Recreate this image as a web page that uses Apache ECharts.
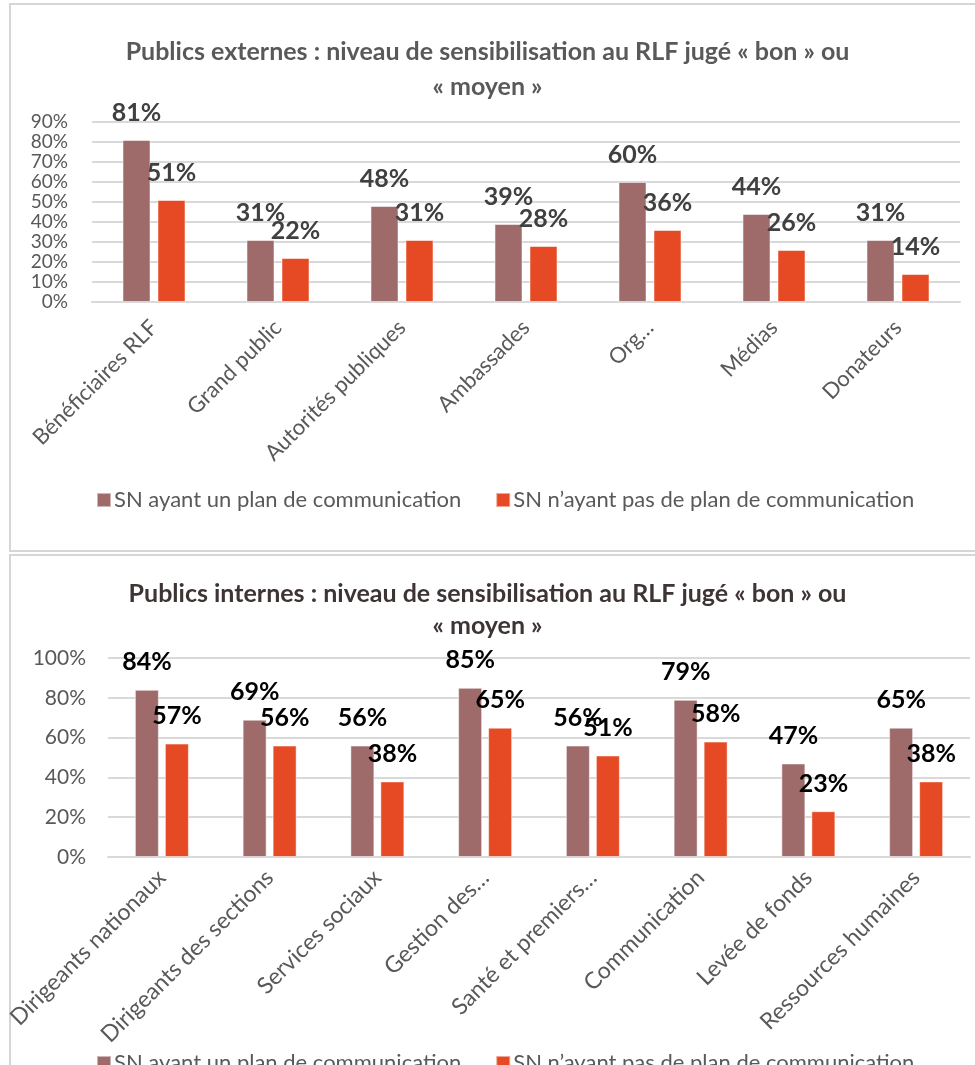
<!DOCTYPE html>
<html>
<head>
<meta charset="utf-8">
<script src="https://cdn.jsdelivr.net/npm/echarts@6/dist/echarts.min.js"></script>
<style>
html,body{margin:0;padding:0;background:#fff;}
#c{width:975px;height:1065px;}
</style>
</head>
<body>
<div id="c"></div>
<script>
// ---- Data ----
const extCategories = ['Bénéficiaires RLF','Grand public','Autorités publiques','Ambassades','Org…','Médias','Donateurs'];
const extWithPlan = [81, 31, 48, 39, 60, 44, 31];
const extWithoutPlan = [51, 22, 31, 28, 36, 26, 14];

const intCategories = ['Dirigeants nationaux','Dirigeants des sections','Services sociaux','Gestion des…','Santé et premiers…','Communication','Levée de fonds','Ressources humaines'];
const intWithPlan = [84, 69, 56, 85, 56, 79, 47, 65];
const intWithoutPlan = [57, 56, 38, 65, 51, 58, 23, 38];

const seriesNames = ['SN ayant un plan de communication', 'SN n’ayant pas de plan de communication'];
const extTitle = 'Publics externes : niveau de sensibilisation au RLF jugé « bon » ou\n« moyen »';
const intTitle = 'Publics internes : niveau de sensibilisation au RLF jugé « bon » ou\n« moyen »';

// ---- Style ----
const FONT = 'Lato';
const C1 = '#9e6a6a';
const C2 = '#e64a24';
const GRIDLINE = '#d9d9d9';

const chart = echarts.init(document.getElementById('c'), null, {renderer: 'canvas'});

function barSeries(name, data, idx, color, labelColor, bw) {
  return {
    name: name,
    type: 'bar',
    xAxisIndex: idx,
    yAxisIndex: idx,
    data: data,
    barWidth: bw,
    barGap: '25%',
    itemStyle: {color: color, borderColor: 'rgba(255,255,255,0.5)', borderWidth: 1},
    label: {
      show: true,
      position: 'top',
      distance: 15,
      formatter: '{c}%',
      fontFamily: FONT,
      fontWeight: 'bold',
      fontSize: 25,
      color: labelColor
    },
    emphasis: {disabled: true}
  };
}

function legendCfg(names, top) {
  return {data: names, left: 91, top: top, itemWidth: 14, itemHeight: 14, itemGap: 34,
    icon: 'rect', textStyle: {fontFamily: FONT, fontSize: 22, color: '#595959', padding: [0, 0, 0, -2]},
    selectedMode: false, formatter: n => n.trim()};
}

const option = {
  animation: false,
  backgroundColor: '#fff',
  graphic: [
    {type: 'rect', shape: {x: 10, y: 4, width: 1000, height: 547}, style: {fill: 'none', stroke: '#d6d6d6', lineWidth: 2}, z: -1},
    {type: 'rect', shape: {x: 10, y: 555, width: 1000, height: 530}, style: {fill: 'none', stroke: '#d6d6d6', lineWidth: 2}, z: -1}
  ],
  title: [
    {text: extTitle, left: 'center', top: 29, textStyle: {fontFamily: FONT, fontWeight: 'bold', fontSize: 25, color: '#595959', lineHeight: 35}},
    {text: intTitle, left: 'center', top: 573, textStyle: {fontFamily: FONT, fontWeight: 'bold', fontSize: 25, color: '#3e3434', lineHeight: 32}}
  ],
  legend: [
    legendCfg([seriesNames[0], seriesNames[1]], 484),
    legendCfg([seriesNames[0] + ' ', seriesNames[1] + ' '], 1047)
  ],
  grid: [
    {left: 92, right: 15, top: 122, height: 180, containLabel: false},
    {left: 108, right: 5, top: 658, height: 199, containLabel: false}
  ],
  xAxis: [
    {type: 'category', gridIndex: 0, data: extCategories,
     axisLine: {lineStyle: {color: GRIDLINE, width: 2}}, axisTick: {show: false},
     axisLabel: {rotate: 45, interval: 0, margin: 22, fontFamily: FONT, fontSize: 22, color: '#595959'}},
    {type: 'category', gridIndex: 1, data: intCategories,
     axisLine: {lineStyle: {color: GRIDLINE, width: 2}}, axisTick: {show: false},
     axisLabel: {rotate: 45, interval: 0, margin: 17, fontFamily: FONT, fontSize: 23, color: '#595959'}}
  ],
  yAxis: [
    {type: 'value', gridIndex: 0, min: 0, max: 90, interval: 10,
     axisLine: {show: false}, axisTick: {show: false},
     splitLine: {lineStyle: {color: GRIDLINE, width: 2}},
     axisLabel: {formatter: '{value}%', margin: 24, fontFamily: FONT, fontSize: 19, lineHeight: 18,
       color: '#595959', showMinLabel: true, showMaxLabel: true, hideOverlap: false}},
    {type: 'value', gridIndex: 1, min: 0, max: 100, interval: 20,
     axisLine: {show: false}, axisTick: {show: false},
     splitLine: {lineStyle: {color: GRIDLINE, width: 2}},
     axisLabel: {formatter: '{value}%', margin: 22, fontFamily: FONT, fontSize: 21,
       color: '#595959', showMinLabel: true, showMaxLabel: true}}
  ],
  series: [
    barSeries(seriesNames[0], extWithPlan, 0, C1, '#404040', 28),
    barSeries(seriesNames[1], extWithoutPlan, 0, C2, '#404040', 28),
    barSeries(seriesNames[0] + ' ', intWithPlan, 1, C1, '#000000', 24),
    barSeries(seriesNames[1] + ' ', intWithoutPlan, 1, C2, '#000000', 24)
  ]
};
chart.setOption(option);
</script>
</body>
</html>
